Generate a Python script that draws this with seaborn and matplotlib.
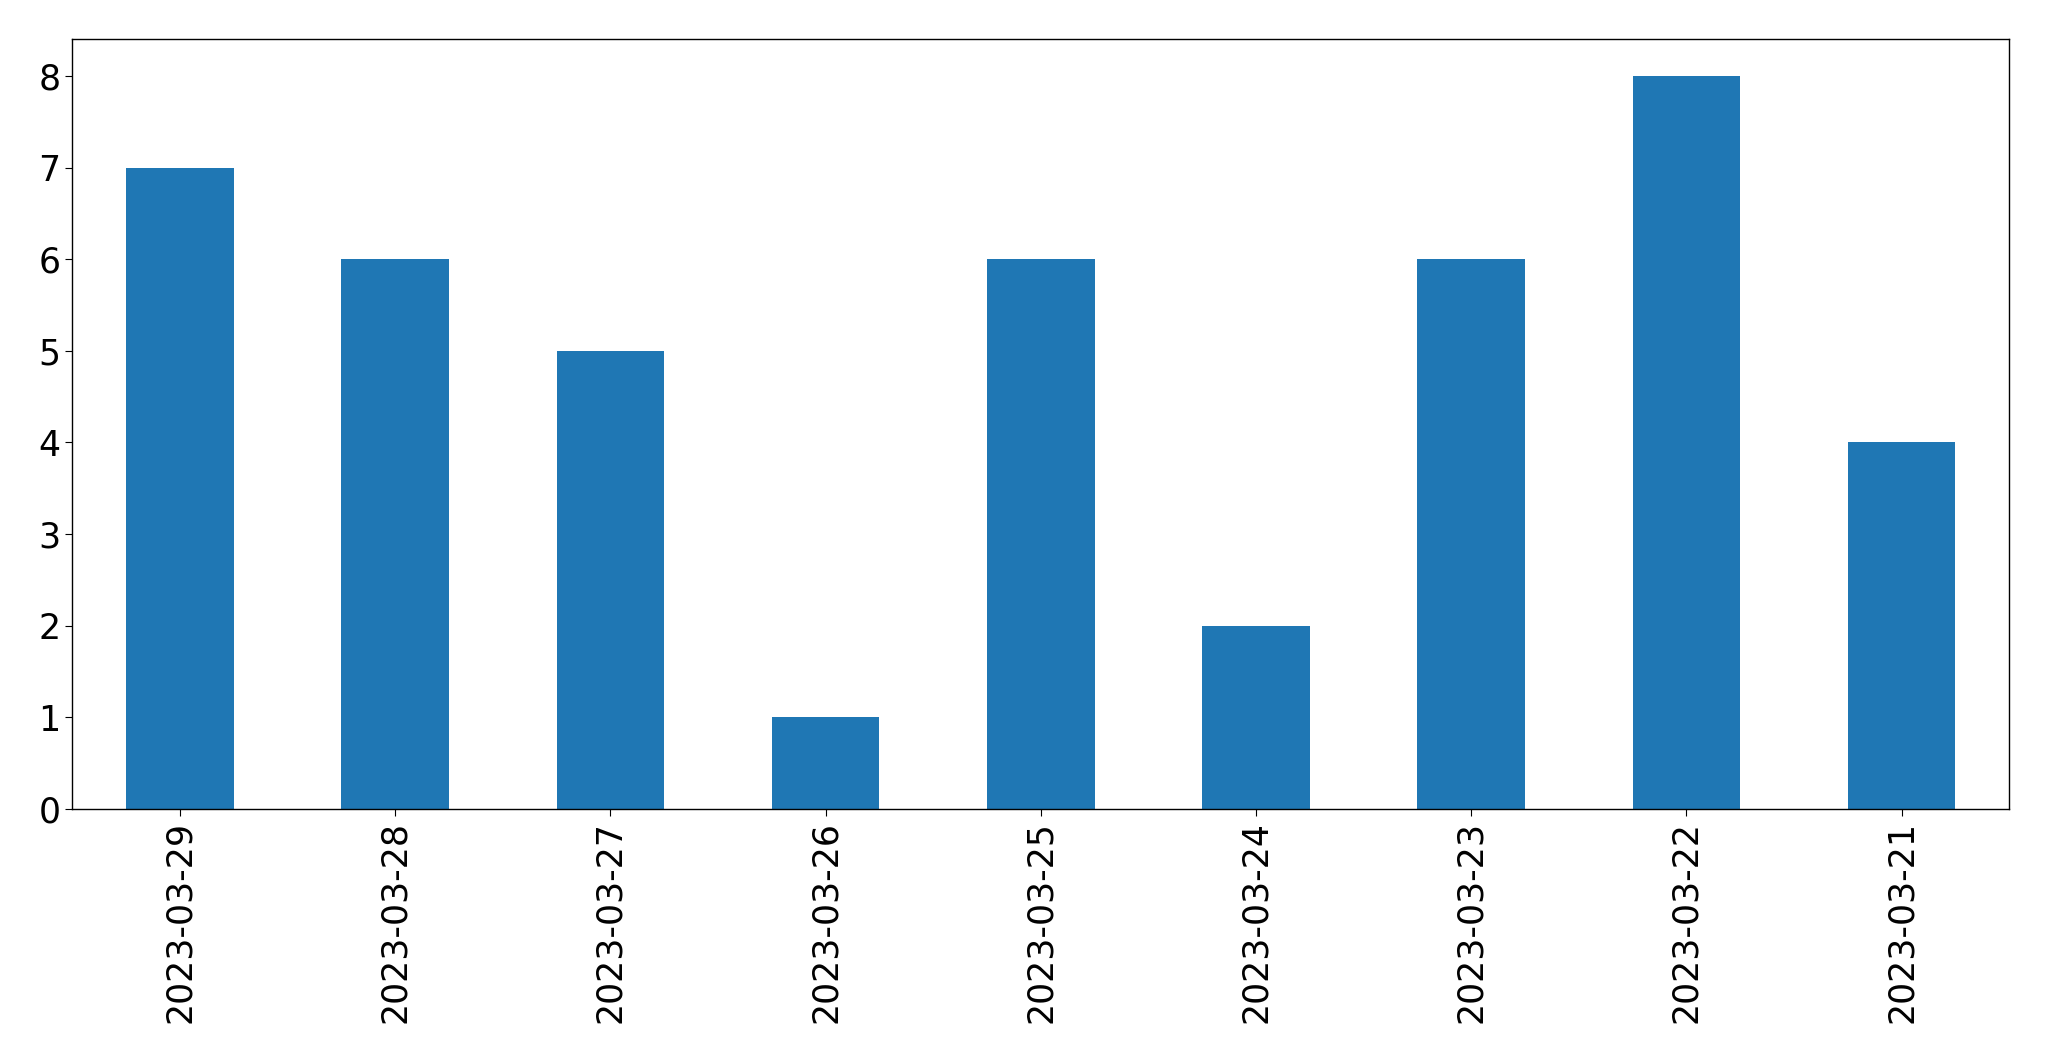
import matplotlib
matplotlib.use("Agg")
import matplotlib.pyplot as plt
import seaborn as sns
import pandas as pd

dates = ["2023-03-29", "2023-03-28", "2023-03-27", "2023-03-26", "2023-03-25",
         "2023-03-24", "2023-03-23", "2023-03-22", "2023-03-21"]
counts = [7, 6, 5, 1, 6, 2, 6, 8, 4]

df = pd.DataFrame({"date": dates, "count": counts})

fig = plt.figure(figsize=(20.49, 10.61), dpi=100)
ax = fig.add_axes([72.3 / 2049, 1 - 809 / 1061, (2009.3 - 72.3) / 2049, (809 - 39.3) / 1061])

sns.barplot(data=df, x="date", y="count", order=dates, color="#1f77b4",
            saturation=1, width=0.5, ax=ax)

ax.set_xlim(-0.5, len(dates) - 0.5)
ax.set_ylim(0, 8.4)
ax.set_xlabel("")
ax.set_ylabel("")
ax.tick_params(axis="x", labelrotation=90, labelsize=25, length=5)
ax.tick_params(axis="y", labelsize=25, length=5)
for s in ax.spines.values():
    s.set_linewidth(1.0)
    s.set_color("black")

fig.savefig("out.png", dpi=100)
